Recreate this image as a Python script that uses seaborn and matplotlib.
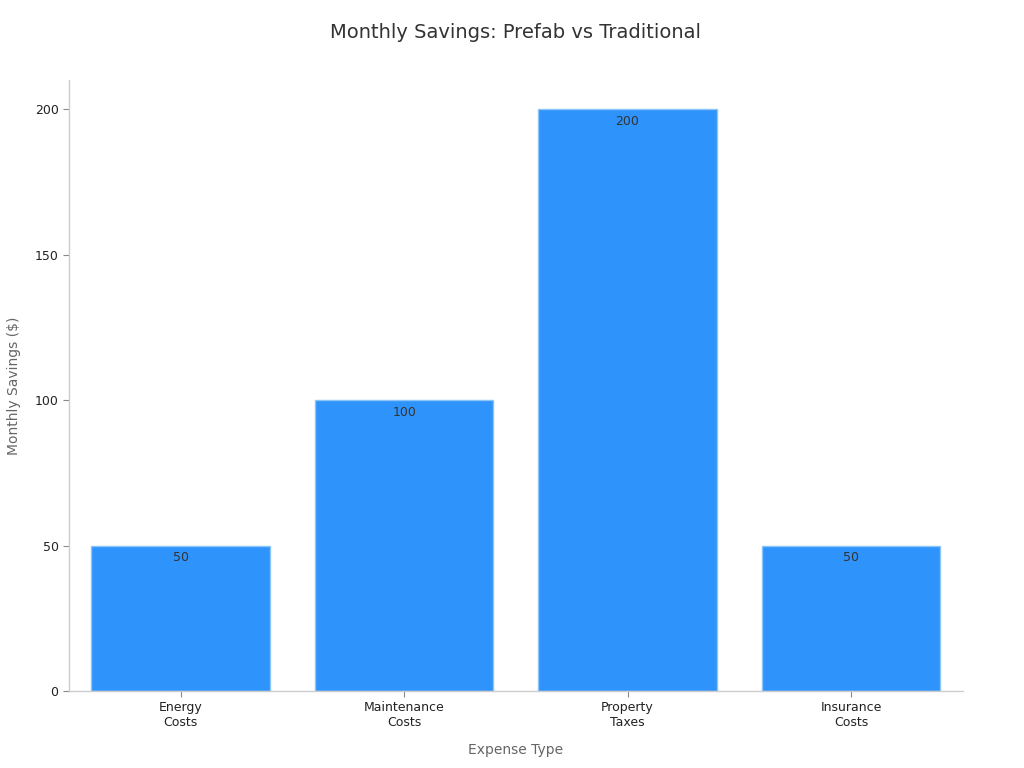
import numpy as np
import pandas as pd
import matplotlib
matplotlib.use("Agg")
import matplotlib.pyplot as plt
import seaborn as sns

categories = ["Energy\nCosts", "Maintenance\nCosts", "Property\nTaxes", "Insurance\nCosts"]
savings = [50, 100, 200, 50]

df = pd.DataFrame({"Expense Type": categories, "Monthly Savings ($)": savings})

sns.set_style("white")
plt.rcParams["font.family"] = ["DejaVu Sans"]

fig = plt.figure(figsize=(10.24, 7.68), dpi=100)
ax = fig.add_axes([0.0674, 0.1003, 0.8727, 0.7955])

sns.barplot(data=df, x="Expense Type", y="Monthly Savings ($)", color="#2E93FA",
            saturation=1, width=0.8, edgecolor="#8CC4FA", linewidth=1, ax=ax)

# value labels just inside the top of each bar
for bar, val in zip(ax.patches, savings):
    ax.text(bar.get_x() + bar.get_width() / 2, bar.get_height() - 1.9, f"{val}",
            ha="center", va="top", fontsize=9, color="#333333")

ax.set_xlim(-0.5, 3.5)
ax.set_ylim(0, 210)
ax.set_yticks([0, 50, 100, 150, 200])

ax.set_title("Monthly Savings: Prefab vs Traditional", fontsize=14, color="#333333", pad=30)
ax.set_xlabel("Expense Type", fontsize=10, color="#666666", labelpad=10)
ax.set_ylabel("Monthly Savings ($)", fontsize=10, color="#666666", labelpad=10)

ax.tick_params(axis="both", labelsize=9, labelcolor="#222222", length=4, width=0.8,
               color="#888888", bottom=True, left=True)

sns.despine(ax=ax)
for side in ["left", "bottom"]:
    ax.spines[side].set_color("#cccccc")
    ax.spines[side].set_linewidth(1)

plt.savefig("out.png", dpi=100)
plt.close()
